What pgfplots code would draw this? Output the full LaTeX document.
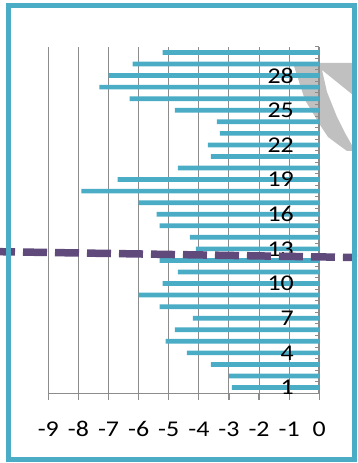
\documentclass[border=0pt]{standalone}
\usepackage{pgfplots}
\pgfplotsset{compat=1.18}
\usepackage{fontspec}
\setmainfont{Carlito}
\newfontfamily\tickfont[FakeStretch=1.15]{Carlito}
\definecolor{barteal}{HTML}{4BACC6}
\definecolor{trendpurple}{HTML}{604A7B}
\definecolor{gridgray}{HTML}{8C8C8C}
\definecolor{shadegray}{HTML}{C0C0C0}

\pgfplotsset{
  panel/.style={
    at={(48.3pt,69.7pt)}, anchor=south west,
    scale only axis, width=271pt, height=346.6pt,
    xmin=-9, xmax=0, ymin=0.5, ymax=30.5,
    clip=false,
    /pgf/number format/assume math mode=true,
    tick label style={font=\tickfont\fontsize{22.5}{22.5}\selectfont, text=black},
  },
}

\begin{document}
\begin{tikzpicture}[x=1pt,y=1pt]
\useasboundingbox (0,0) rectangle (357,463);
% grey shape behind the upper right corner of the plot
\fill[shadegray] (293,400) -- (353,400) -- (353,368) -- (322,393) -- (327,371)
  -- (337,346) -- (345,330) -- (353,316) -- (353,312) -- (347,312)
  -- (336,320) -- (328,326) -- (322,335) -- (305,363) -- cycle;
% grid, axes and bars
\begin{axis}[
  panel,
  axis x line*=bottom, axis y line*=right,
  x axis line style={gridgray, line width=1.4pt},
  y axis line style={gridgray, line width=2pt},
  tick align=outside,
  xtick={-9,-8,...,0},
  ytick={1,4,...,28}, yticklabels={},
  minor ytick={0.5,1.5,...,30.5},
  major tick length=6.5pt, minor tick length=4pt,
  major x tick style={gridgray, line width=1.2pt},
  major y tick style={draw=none},
  minor y tick style={gridgray, line width=1pt, xshift=-4pt},
  xmajorgrids, grid style={gridgray, line width=1pt},
  xticklabel style={anchor=base, inner sep=0pt, yshift=-36.2pt},
]
\addplot[xbar, bar width=4.7pt, fill=barteal, draw=none] coordinates {
  (-2.9,1) (-3.0,2) (-3.6,3) (-4.4,4) (-5.1,5) (-4.8,6) (-4.2,7) (-5.3,8)
  (-6.0,9) (-5.2,10) (-4.7,11) (-5.3,12) (-4.1,13) (-4.3,14) (-5.3,15)
  (-5.4,16) (-6.0,17) (-7.9,18) (-6.7,19) (-4.7,20) (-3.6,21) (-3.7,22)
  (-3.3,23) (-3.4,24) (-4.8,25) (-6.3,26) (-7.3,27) (-7.0,28) (-6.2,29)
  (-5.2,30)
};
\end{axis}
% category labels over the bars, then the dashed trend line on top
\begin{axis}[
  panel,
  axis x line*=bottom, axis y line*=right,
  axis line style={draw=none},
  xtick=\empty,
  ytick={1,4,...,28},
  tick align=outside, major tick length=6.5pt,
  major y tick style={draw=none},
  yticklabel style={anchor=east, inner sep=0pt, xshift=-31.8pt},
]
\addplot[trendpurple, line width=7.5pt,
  dash pattern=on 24pt off 8pt, dash phase=9pt]
  coordinates {(-10.604,12.756) (1.252,12.254)};
\end{axis}
\draw[barteal, line width=5pt] (8.3,3.8) rectangle (354.8,457.2);
\end{tikzpicture}
\end{document}
